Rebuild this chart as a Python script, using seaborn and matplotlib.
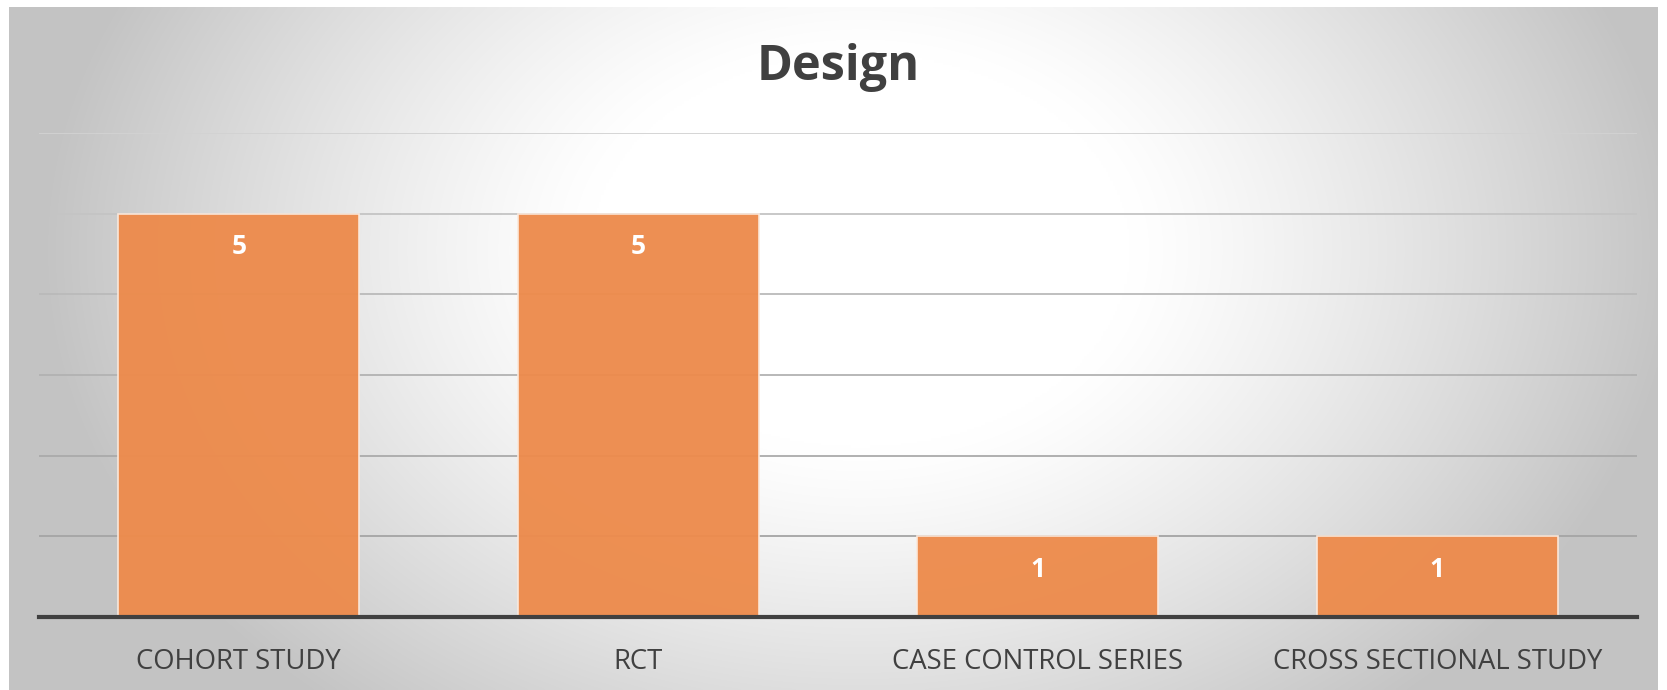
import numpy as np
import pandas as pd
import matplotlib
matplotlib.use("Agg")
import matplotlib.pyplot as plt
import seaborn as sns

categories = ["COHORT STUDY", "RCT", "CASE CONTROL SERIES", "CROSS SECTIONAL STUDY"]
counts = [5, 5, 1, 1]
title = "Design"

df = pd.DataFrame({"design": categories, "count": counts})

sns.set_theme(style="white")
plt.rcParams['font.family'] = ['Open Sans', 'DejaVu Sans']

W, H = 1667, 690
fig = plt.figure(figsize=(W / 100, H / 100), dpi=100)
fig.patch.set_facecolor("white")

# background gradient panel
bg = fig.add_axes([9 / W, 0, (1657 - 9) / W, (H - 7) / H], zorder=0)
ny, nx = 300, 700
yy, xx = np.mgrid[0:ny, 0:nx]
px = 9 + xx / (nx - 1) * (1657 - 9)
py = 7 + yy / (ny - 1) * (H - 7)
r = np.sqrt(((px - 860) / 820) ** 2 + ((py - 250) / 600) ** 2)
t = np.clip((r - 0.33) / 0.67, 0, 1)
val = 1.0 - 0.235 * t ** 1.2
img = np.dstack([val, val, val])
bg.imshow(img, aspect="auto", extent=[0, 1, 0, 1], interpolation="bilinear")
bg.set_axis_off()

ax = fig.add_axes([39 / W, (H - 617) / H, (1637 - 39) / W, (617 - 133) / H], zorder=1)
ax.patch.set_alpha(0)

sns.barplot(data=df, x="design", y="count", ax=ax, color="#ED8B4C", alpha=0.96,
            saturation=1, width=0.603, edgecolor="#fbe9dc", linewidth=1.2, zorder=3)

ax.set_ylim(0, 6)
ax.set_xlim(-0.5, len(categories) - 0.5)
grid_colors = ["#a4a4a4", "#aaaaaa", "#b2b2b2", "#bababa", "#c4c4c4", "#d2d2d2"]
for yv, gc in zip(range(1, 7), grid_colors):
    ax.axhline(yv, color=gc, linewidth=1.3, zorder=1)
ax.set_yticks([])
ax.tick_params(axis="x", bottom=False, labelsize=19.8, colors="#404040", pad=16)
ax.set_xlabel("")
ax.set_ylabel("")
for side in ["top", "right", "left"]:
    ax.spines[side].set_visible(False)
ax.spines["bottom"].set_color("#404040")
ax.spines["bottom"].set_linewidth(3)
ax.spines["bottom"].set_zorder(5)

for i, v in enumerate(counts):
    ax.text(i, v - 0.41, str(v), ha="center", va="center", color="white",
            fontsize=19, fontweight="bold", zorder=6)

fig.text(838 / W, 1 - 68 / H, title, ha="center", va="center", fontsize=35,
         fontweight="bold", color="#404040")

fig.savefig("out.png", dpi=100)
